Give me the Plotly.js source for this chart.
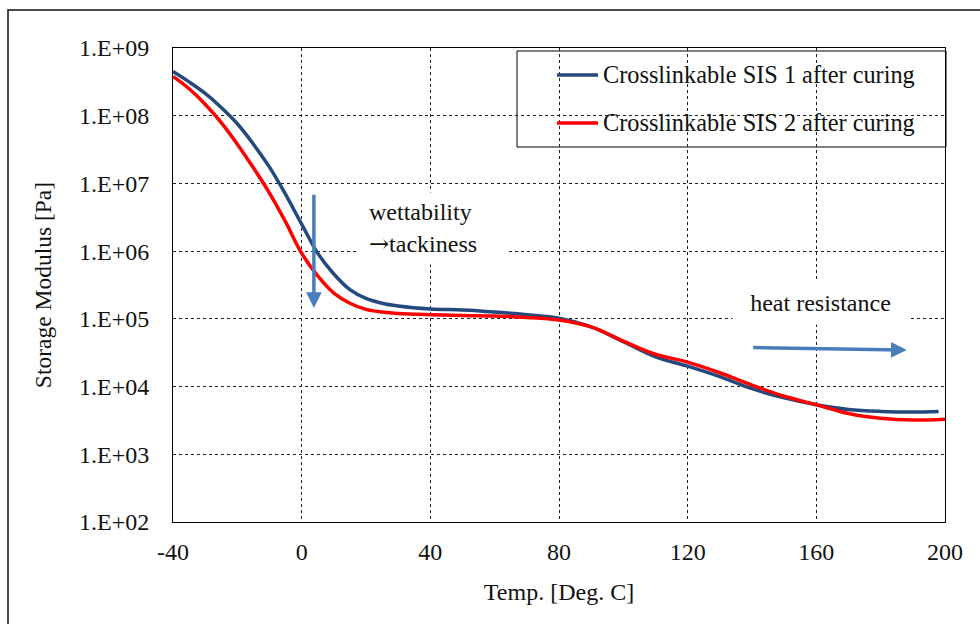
<!DOCTYPE html>
<html>
<head>
<meta charset="utf-8">
<script src="https://cdn.plot.ly/plotly-3.0.1.min.js"></script>
<style>
  html, body { margin: 0; padding: 0; background: #ffffff; }
  #chart { width: 980px; height: 624px; }
</style>
</head>
<body>
<div id="chart"></div>
<script>
// ---- Data ----
const tempSIS1 = [-40, -35, -30, -25, -20, -15, -10, -5, 0, 5, 10, 15, 20, 25, 30, 40, 50, 60, 70, 80, 90, 100, 110, 120, 130, 140, 150, 160, 170, 180, 190, 198];
const modulusSIS1 = [4.5e8, 3.16e8, 2.14e8, 1.32e8, 7.6e7, 3.8e7, 1.74e7, 6.9e6, 2.5e6, 9.3e5, 4.6e5, 2.7e5, 2.0e5, 1.7e5, 1.55e5, 1.4e5, 1.35e5, 1.26e5, 1.15e5, 1.02e5, 7.6e4, 4.6e4, 2.75e4, 2.0e4, 1.4e4, 9.3e3, 6.8e3, 5.4e3, 4.6e3, 4.3e3, 4.2e3, 4.3e3];

const tempSIS2 = [-40, -35, -30, -25, -20, -15, -10, -5, 0, 5, 10, 15, 20, 25, 30, 40, 50, 60, 70, 80, 90, 100, 110, 120, 130, 140, 150, 160, 170, 180, 190, 200];
const modulusSIS2 = [3.8e8, 2.5e8, 1.48e8, 7.9e7, 3.8e7, 1.7e7, 7.2e6, 2.7e6, 9.3e5, 4.3e5, 2.4e5, 1.7e5, 1.38e5, 1.26e5, 1.2e5, 1.15e5, 1.12e5, 1.1e5, 1.05e5, 9.6e4, 7.6e4, 4.7e4, 3.0e4, 2.3e4, 1.6e4, 1.05e4, 7.2e3, 5.4e3, 4.0e3, 3.4e3, 3.2e3, 3.3e3];

const seriesNames = ["Crosslinkable SIS 1 after curing", "Crosslinkable SIS 2 after curing"];
const xTickVals = [-40, 0, 40, 80, 120, 160, 200];
const xTickText = ["-40", "0", "40", "80", "120", "160", "200"];
const yTickVals = [1e2, 1e3, 1e4, 1e5, 1e6, 1e7, 1e8, 1e9];
const yTickText = ["1.E+02", "1.E+03", "1.E+04", "1.E+05", "1.E+06", "1.E+07", "1.E+08", "1.E+09"];

// ---- Styles ----
const FONT = "Liberation Serif, Times New Roman, serif";
const blue = "#23497e";
const red = "#ff0000";
const arrowBlue = "#4a7ebb";

const traces = [
  {
    x: tempSIS1, y: modulusSIS1, name: seriesNames[0], type: "scatter", mode: "lines",
    line: { color: blue, width: 3.5, shape: "spline", smoothing: 1 }
  },
  {
    x: tempSIS2, y: modulusSIS2, name: seriesNames[1], type: "scatter", mode: "lines",
    line: { color: red, width: 3.5, shape: "spline", smoothing: 1 }
  }
];

// pixel -> paper helpers for decorations (plot area 173..945 x 48..522)
const px = v => (v - 173) / 772;
const py = v => (522 - v) / 474;

const layout = {
  width: 980, height: 624,
  margin: { l: 173, r: 35, t: 48, b: 102, pad: 0 },
  paper_bgcolor: "#ffffff", plot_bgcolor: "#ffffff",
  showlegend: false,
  font: { family: FONT, size: 24, color: "#111111" },
  xaxis: {
    range: [-40, 200], tickvals: xTickVals, ticktext: xTickText,
    ticks: "", ticklabelstandoff: 8,
    showline: true, mirror: true, linecolor: "#000000", linewidth: 1,
    showgrid: true, gridcolor: "#222222", gridwidth: 1, griddash: "dot",
    zeroline: false,
    tickfont: { family: FONT, size: 24, color: "#111111" },
    title: { text: "Temp. [Deg. C]", font: { family: FONT, size: 24, color: "#111111" }, standoff: 19 }
  },
  yaxis: {
    type: "log", range: [2, 9], tickvals: yTickVals, ticktext: yTickText,
    ticks: "", ticklabelstandoff: 18,
    showline: true, mirror: true, linecolor: "#000000", linewidth: 1,
    showgrid: true, gridcolor: "#222222", gridwidth: 1, griddash: "dot",
    zeroline: false,
    tickfont: { family: FONT, size: 24, color: "#111111" },
    title: { text: "Storage Modulus [Pa]", font: { family: FONT, size: 23.5, color: "#111111" }, standoff: 20 }
  },
  shapes: [
    // outer frame of the picture (left and top edges visible)
    { type: "rect", xref: "paper", yref: "paper", x0: px(8), x1: px(1030), y0: py(680), y1: py(10),
      line: { color: "#111111", width: 1.5 }, fillcolor: "rgba(0,0,0,0)" },
    // legend box
    { type: "rect", xref: "paper", yref: "paper", x0: px(517), x1: px(946), y0: py(147), y1: py(51),
      line: { color: "#000000", width: 1 }, fillcolor: "#ffffff", layer: "between" },
    // legend samples
    { type: "line", xref: "paper", yref: "paper", x0: px(557), x1: px(598), y0: py(75), y1: py(75),
      line: { color: blue, width: 3.5 } },
    { type: "line", xref: "paper", yref: "paper", x0: px(557), x1: px(598), y0: py(123), y1: py(123),
      line: { color: red, width: 3.5 } }
  ],
  annotations: [
    // legend labels
    { xref: "paper", yref: "paper", x: px(601), y: py(75), xanchor: "left", yanchor: "middle",
      text: seriesNames[0], showarrow: false, font: { family: FONT, size: 24.3, color: "#111111" } },
    { xref: "paper", yref: "paper", x: px(601), y: py(123), xanchor: "left", yanchor: "middle",
      text: seriesNames[1], showarrow: false, font: { family: FONT, size: 24.3, color: "#111111" } },
    // text callouts
    { xref: "paper", yref: "paper", x: px(358), y: py(192), xanchor: "left", yanchor: "top",
      text: "wettability<br><span style=\"font-family:'DejaVu Serif'\">→</span>tackiness", align: "left", showarrow: false,
      width: 127, height: 51, borderpad: 10, bgcolor: "#ffffff",
      font: { family: FONT, size: 24, color: "#111111" } },
    { xref: "paper", yref: "paper", x: px(732), y: py(281), xanchor: "left", yanchor: "top",
      text: "heat resistance", align: "center", showarrow: false,
      width: 155, height: 22, borderpad: 10, bgcolor: "#ffffff",
      font: { family: FONT, size: 24, color: "#111111" } },
    // arrows
    { xref: "x", yref: "y", x: 3.8, y: 5.16, axref: "x", ayref: "y", ax: 3.8, ay: 6.855,
      text: "", showarrow: true, arrowhead: 2, arrowsize: 0.9, arrowwidth: 3.5, arrowcolor: arrowBlue, standoff: 0 },
    { xref: "x", yref: "y", x: 188.1, y: 4.54, axref: "x", ayref: "y", ax: 139.9, ay: 4.577,
      text: "", showarrow: true, arrowhead: 2, arrowsize: 0.9, arrowwidth: 3.5, arrowcolor: arrowBlue, standoff: 0 }
  ]
};

Plotly.newPlot("chart", traces, layout, { staticPlot: true, displayModeBar: false });
</script>
</body>
</html>
